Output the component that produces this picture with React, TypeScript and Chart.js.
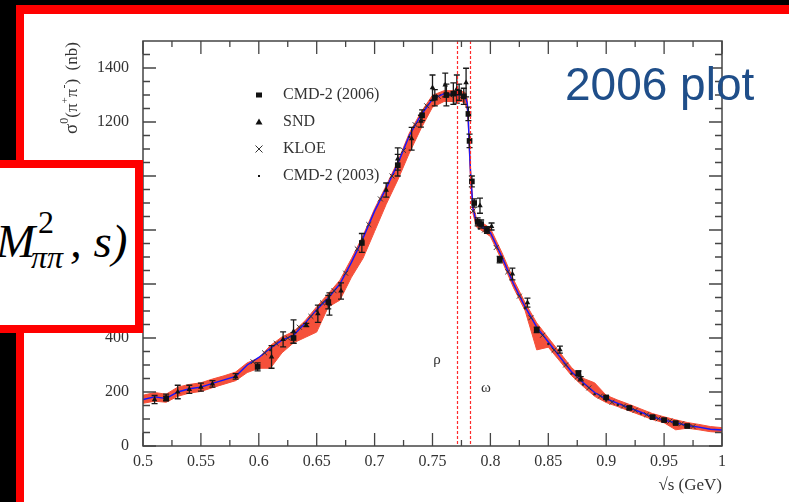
import React, { useEffect, useRef } from "react";
import { Chart, registerables } from "chart.js";
Chart.register(...registerables);

// ---------- data ----------
const xTicks = [0.5, 0.55, 0.6, 0.65, 0.7, 0.75, 0.8, 0.85, 0.9, 0.95, 1.0];
const xTickLabels = ["0.5", "0.55", "0.6", "0.65", "0.7", "0.75", "0.8", "0.85", "0.9", "0.95", "1"];
const yTicks = [0, 200, 400, 600, 800, 1000, 1200, 1400];
const yTickLabels = ["0", "200", "400", "600", "800", "1000", "1200", "1400"];

const fitX = [0.5, 0.51, 0.52, 0.53, 0.54, 0.55, 0.56, 0.57, 0.58, 0.59, 0.6, 0.61, 0.62, 0.63, 0.64, 0.65, 0.66, 0.67, 0.68, 0.69, 0.7, 0.71, 0.72, 0.73, 0.74, 0.75, 0.76, 0.77, 0.775, 0.778, 0.78, 0.781, 0.782, 0.783, 0.785, 0.788, 0.795, 0.8, 0.81, 0.82, 0.83, 0.84, 0.85, 0.86, 0.87, 0.88, 0.89, 0.9, 0.91, 0.92, 0.93, 0.94, 0.95, 0.96, 0.97, 0.98, 0.99, 1.0];
const fitY = [172, 182, 176, 200, 212, 218, 232, 245, 258, 300, 328, 362, 392, 410, 455, 505, 548, 600, 680, 770, 870, 955, 1045, 1150, 1225, 1285, 1305, 1302, 1300, 1297, 1270, 1200, 1090, 1000, 880, 826, 805, 790, 700, 600, 515, 440, 385, 330, 275, 235, 198, 175, 158, 141, 125, 108, 96, 86, 76, 70, 62, 59];
const bandLow = [158, 166, 162, 184, 196, 202, 216, 229, 242, 272, 288, 288, 345, 382, 402, 422, 515, 540, 625, 695, 795, 895, 985, 1085, 1175, 1255, 1276, 1276, 1276, 1270, 1245, 1175, 1065, 975, 860, 811, 791, 776, 686, 586, 501, 356, 366, 314, 261, 221, 184, 161, 146, 130, 114, 98, 86, 60, 66, 60, 53, 50];
const bandHigh = [188, 198, 192, 218, 228, 234, 248, 260, 274, 308, 326, 372, 404, 424, 464, 516, 564, 614, 694, 779, 879, 964, 1054, 1159, 1236, 1299, 1316, 1316, 1314, 1310, 1286, 1216, 1106, 1016, 896, 842, 821, 806, 716, 616, 531, 456, 401, 346, 291, 251, 234, 188, 170, 154, 137, 120, 108, 97, 87, 80, 72, 68];

const cmd06X = [0.52, 0.599, 0.63, 0.66, 0.689, 0.72, 0.741, 0.752, 0.762, 0.768, 0.773, 0.777, 0.781, 0.782, 0.784, 0.786, 0.789, 0.792, 0.797, 0.808, 0.84, 0.876, 0.9, 0.92, 0.94, 0.95, 0.96, 0.97];
const cmd06Y = [176, 293, 400, 533, 752, 1040, 1225, 1290, 1300, 1305, 1310, 1295, 1230, 1130, 980, 900, 830, 822, 800, 690, 430, 270, 180, 141, 107, 96, 85, 74];
const cmd06Err = [8, 15, 20, 25, 35, 40, 20, 30, 40, 40, 30, 30, 25, 25, 20, 15, 15, 15, 12, 12, 10, 8, 6, 5, 5, 4, 4, 4];

const sndX = [0.51, 0.52, 0.53, 0.54, 0.55, 0.56, 0.58, 0.611, 0.621, 0.63, 0.641, 0.651, 0.661, 0.671, 0.71, 0.72, 0.732, 0.74, 0.75, 0.761, 0.771, 0.779, 0.791, 0.801, 0.819, 0.832, 0.86, 0.878];
const sndY = [172, 180, 200, 210, 218, 230, 258, 330, 395, 424, 448, 490, 526, 574, 948, 1063, 1138, 1203, 1327, 1337, 1322, 1346, 890, 813, 637, 531, 357, 249];
const sndErr = [15, 12, 25, 15, 15, 12, 10, 42, 28, 43, 6, 32, 41, 30, 26, 41, 42, 22, 47, 44, 52, 53, 28, 13, 22, 17, 13, 8];

const kloeX = [0.595, 0.605, 0.615, 0.625, 0.635, 0.645, 0.655, 0.665, 0.675, 0.685, 0.695, 0.705, 0.715, 0.725, 0.735, 0.745, 0.755, 0.765, 0.775, 0.785, 0.795, 0.805, 0.815, 0.825, 0.835, 0.845, 0.855, 0.865, 0.875, 0.885, 0.895, 0.905, 0.915, 0.925, 0.935, 0.945, 0.955, 0.965, 0.975];
const kloeY = [312, 345, 380, 400, 440, 480, 530, 575, 640, 730, 820, 915, 1000, 1095, 1190, 1260, 1295, 1300, 1295, 870, 800, 735, 645, 555, 475, 410, 355, 300, 255, 215, 185, 162, 148, 132, 116, 101, 92, 82, 72];

const cmd03X = [0.61, 0.63, 0.65, 0.67, 0.69, 0.71, 0.73, 0.75, 0.765, 0.79, 0.81, 0.83, 0.85, 0.87, 0.88, 0.89, 0.9, 0.91, 0.92, 0.93, 0.94, 0.95, 0.96, 0.97];
const cmd03Y = [355, 405, 500, 595, 765, 950, 1145, 1280, 1300, 805, 695, 510, 378, 268, 228, 192, 168, 152, 136, 120, 104, 92, 82, 72];

const legendLabels = ["CMD-2 (2006)", "SND", "KLOE", "CMD-2 (2003)"];
const rhoMass = 0.7712;
const omegaMass = 0.7824;

// ---------- helpers ----------
const pts = (xs: number[], ys: number[]) => xs.map((x, i) => ({ x, y: ys[i] }));
const SERIF = "'Liberation Serif', 'Times New Roman', serif";
const AXIS = "#444";
const BAND = "#f5503a";

const errorBarPlugin = {
  id: "errorBars",
  beforeDatasetDraw(chart: any, args: any) {
    const ds = chart.data.datasets[args.index];
    if (!ds.errs) return;
    const { ctx } = chart;
    const xs = chart.scales.x;
    const ys = chart.scales.y;
    ctx.save();
    ctx.strokeStyle = "#1a1a1a";
    ctx.lineWidth = 1.3;
    ds.data.forEach((p: any, i: number) => {
      const e = ds.errs[i];
      if (!e) return;
      const px = xs.getPixelForValue(p.x);
      const y1 = ys.getPixelForValue(p.y - e);
      const y2 = ys.getPixelForValue(p.y + e);
      ctx.beginPath();
      ctx.moveTo(px, y1);
      ctx.lineTo(px, y2);
      ctx.moveTo(px - 3, y1);
      ctx.lineTo(px + 3, y1);
      ctx.moveTo(px - 3, y2);
      ctx.lineTo(px + 3, y2);
      ctx.stroke();
    });
    ctx.restore();
  },
};

function drawMarker(ctx: CanvasRenderingContext2D, kind: string, x: number, y: number) {
  ctx.save();
  ctx.fillStyle = "#111";
  ctx.strokeStyle = "#333";
  ctx.lineWidth = 1;
  if (kind === "rect") {
    ctx.fillRect(x - 3, y - 2.5, 6, 5);
  } else if (kind === "triangle") {
    ctx.beginPath();
    ctx.moveTo(x, y - 3.5);
    ctx.lineTo(x + 3.5, y + 2.5);
    ctx.lineTo(x - 3.5, y + 2.5);
    ctx.closePath();
    ctx.fill();
  } else if (kind === "cross") {
    ctx.beginPath();
    ctx.moveTo(x - 3.5, y - 3.5);
    ctx.lineTo(x + 3.5, y + 3.5);
    ctx.moveTo(x + 3.5, y - 3.5);
    ctx.lineTo(x - 3.5, y + 3.5);
    ctx.stroke();
  } else {
    ctx.fillRect(x - 1, y - 1, 2, 2);
  }
  ctx.restore();
}

const framePlugin = {
  id: "rootFrame",
  afterDraw(chart: any) {
    const { ctx, chartArea: a } = chart;
    const xs = chart.scales.x;
    const ys = chart.scales.y;
    ctx.save();
    // dashed resonance lines
    ctx.lineWidth = 1.2;
    ctx.setLineDash([3, 2]);
    [rhoMass, omegaMass].forEach((m) => {
      const px = Math.round(xs.getPixelForValue(m)) + 0.5;
      ctx.strokeStyle = "#ff2a2a";
      ctx.beginPath();
      ctx.moveTo(px, a.top);
      ctx.lineTo(px, a.bottom);
      ctx.stroke();
    });
    ctx.setLineDash([]);
    // frame
    ctx.strokeStyle = AXIS;
    ctx.lineWidth = 1.5;
    ctx.strokeRect(a.left, a.top, a.right - a.left, a.bottom - a.top);
    ctx.lineWidth = 1.3;
    ctx.beginPath();
    for (let v = 0; v < 1500; v += 50) {
      const py = ys.getPixelForValue(v);
      const len = v % 200 === 0 ? 13 : 7;
      ctx.moveTo(a.left, py);
      ctx.lineTo(a.left + len, py);
      ctx.moveTo(a.right, py);
      ctx.lineTo(a.right - len, py);
    }
    for (let i = 0; i <= 20; i++) {
      const px = xs.getPixelForValue(0.5 + i * 0.025);
      const len = i % 2 === 0 ? 13 : 6;
      ctx.moveTo(px, a.bottom);
      ctx.lineTo(px, a.bottom - len);
      ctx.moveTo(px, a.top);
      ctx.lineTo(px, a.top + len);
    }
    ctx.stroke();

    // legend
    const kinds = ["rect", "triangle", "cross", "dot"];
    legendLabels.forEach((lab, i) => {
      const cy = 95 + i * 27;
      drawMarker(ctx, kinds[i], 259, cy);
      ctx.fillStyle = "#333";
      ctx.font = `16px ${SERIF}`;
      ctx.textBaseline = "middle";
      ctx.textAlign = "left";
      ctx.fillText(lab, 283, cy);
    });

    // rho / omega labels
    ctx.fillStyle = "#333";
    ctx.font = `15px ${SERIF}`;
    ctx.textAlign = "center";
    ctx.textBaseline = "middle";
    ctx.fillText("ρ", 437, 360);
    ctx.fillText("ω", 486, 388);

    // x title
    ctx.font = `17px ${SERIF}`;
    ctx.textAlign = "right";
    ctx.textBaseline = "alphabetic";
    ctx.fillText("√s (GeV)", a.right, 490);

    // y title (rotated, rich text)
    const segs = [
      { t: "σ", s: 19, dy: 0 },
      { t: "0", s: 12, dy: -9 },
      { t: "(π", s: 17, dy: 0 },
      { t: "+", s: 11, dy: -9 },
      { t: "π", s: 17, dy: 0 },
      { t: "-", s: 12, dy: -9 },
      { t: ")", s: 17, dy: 0 },
      { t: "  (nb)", s: 17, dy: 0 },
    ];
    ctx.translate(77, 88);
    ctx.rotate(-Math.PI / 2);
    let total = 0;
    segs.forEach((g) => {
      ctx.font = `${g.s}px ${SERIF}`;
      total += ctx.measureText(g.t).width;
    });
    let cx = -total / 2;
    ctx.textAlign = "left";
    segs.forEach((g) => {
      ctx.font = `${g.s}px ${SERIF}`;
      ctx.fillText(g.t, cx, g.dy);
      cx += ctx.measureText(g.t).width;
    });
    ctx.restore();
  },
};

function PhysicsChart() {
  const ref = useRef<HTMLCanvasElement | null>(null);
  useEffect(() => {
    if (!ref.current) return;
    const chart = new Chart(ref.current, {
      type: "scatter",
      data: {
        datasets: [
          {
            label: legendLabels[0],
            data: pts(cmd06X, cmd06Y),
            errs: cmd06Err,
            pointStyle: "rect",
            pointRadius: 4,
            backgroundColor: "#111",
            borderColor: "#111",
            borderWidth: 0,
            order: 1,
          } as any,
          {
            label: legendLabels[1],
            data: pts(sndX, sndY),
            errs: sndErr,
            pointStyle: "triangle",
            pointRadius: 3.2,
            backgroundColor: "#111",
            borderColor: "#111",
            borderWidth: 0,
            order: 2,
          } as any,
          {
            label: legendLabels[2],
            data: pts(kloeX, kloeY),
            pointStyle: "crossRot",
            pointRadius: 3.5,
            borderColor: "#333",
            borderWidth: 1,
            order: 3,
          },
          {
            label: legendLabels[3],
            data: pts(cmd03X, cmd03Y),
            pointStyle: "circle",
            pointRadius: 1.2,
            backgroundColor: "#222",
            borderWidth: 0,
            order: 4,
          },
          {
            label: "fit",
            data: pts(fitX, fitY),
            showLine: true,
            borderColor: "#1414ff",
            borderWidth: 1.4,
            pointRadius: 0,
            tension: 0,
            order: 5,
          },
          {
            label: "band high",
            data: pts(fitX, bandHigh),
            showLine: true,
            borderColor: BAND,
            borderWidth: 1,
            backgroundColor: BAND,
            pointRadius: 0,
            fill: "+1",
            order: 6,
          },
          {
            label: "band low",
            data: pts(fitX, bandLow),
            showLine: true,
            borderColor: BAND,
            borderWidth: 1,
            pointRadius: 0,
            fill: false,
            order: 7,
          },
        ],
      },
      options: {
        animation: false,
        responsive: false,
        events: [],
        layout: { padding: { left: 0, top: 41, right: 67, bottom: 0 } },
        plugins: { legend: { display: false }, tooltip: { enabled: false } },
        scales: {
          x: {
            type: "linear",
            min: 0.5,
            max: 1.0,
            grid: { display: false, drawTicks: false },
            border: { display: false },
            afterBuildTicks: (s: any) => {
              s.ticks = xTicks.map((v) => ({ value: v }));
            },
            afterFit: (s: any) => {
              s.height = 56;
            },
            ticks: {
              autoSkip: false,
              maxRotation: 0,
              padding: 6,
              color: "#333",
              font: { family: SERIF, size: 16 },
              callback: (_v: any, i: number) => xTickLabels[i],
            },
          },
          y: {
            type: "linear",
            min: 0,
            max: 1500,
            grid: { display: false, drawTicks: false },
            border: { display: false },
            afterBuildTicks: (s: any) => {
              s.ticks = yTicks.map((v) => ({ value: v }));
            },
            afterFit: (s: any) => {
              s.width = 143;
            },
            ticks: {
              autoSkip: false,
              padding: 14,
              color: "#333",
              font: { family: SERIF, size: 16 },
              callback: (_v: any, i: number) => yTickLabels[i],
            },
          },
        },
      } as any,
      plugins: [errorBarPlugin, framePlugin],
    });
    return () => chart.destroy();
  }, []);
  return <canvas ref={ref} width={789} height={502} style={{ position: "absolute", left: 0, top: 0 }} />;
}

export default function App() {
  const mathFont = "'Liberation Serif', 'Times New Roman', serif";
  return (
    <div style={{ position: "fixed", left: 0, top: 0, width: 789, height: 502, overflow: "hidden", background: "#000" }}>
      <div style={{ position: "absolute", left: 16, top: 5, right: 0, bottom: 0, background: "#ff0000" }} />
      <div style={{ position: "absolute", left: 24, top: 14, right: 0, bottom: 0, background: "#fff" }} />
      <PhysicsChart />
      <div
        style={{
          position: "absolute",
          left: -8,
          top: 160,
          width: 151,
          height: 173,
          boxSizing: "border-box",
          border: "8px solid #ff0000",
          background: "#fff",
        }}
      />
      <span style={{ position: "absolute", left: -4, top: 218, fontFamily: mathFont, fontStyle: "italic", fontSize: 47, lineHeight: "47px", color: "#000", whiteSpace: "pre" }}>M</span>
      <span style={{ position: "absolute", left: 38, top: 206, fontFamily: mathFont, fontSize: 32, lineHeight: "32px", color: "#000" }}>2</span>
      <span style={{ position: "absolute", left: 31, top: 241, fontFamily: mathFont, fontStyle: "italic", fontSize: 32, lineHeight: "32px", color: "#000" }}>ππ</span>
      <span style={{ position: "absolute", left: 70, top: 218, fontFamily: mathFont, fontStyle: "italic", fontSize: 47, lineHeight: "47px", color: "#000", whiteSpace: "pre" }}>, s)</span>
      <div style={{ position: "absolute", left: 565, top: 61, fontFamily: "'Liberation Sans', Arial, sans-serif", fontSize: 46, lineHeight: "46px", color: "#1F4E89", whiteSpace: "pre" }}>2006 plot</div>
    </div>
  );
}
